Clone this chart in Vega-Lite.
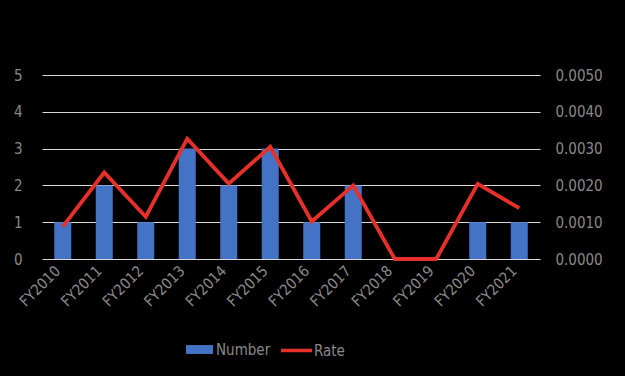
{
  "$schema": "https://vega.github.io/schema/vega-lite/v6.json",
  "width": 498,
  "height": 184,
  "autosize": {"type": "none"},
  "padding": {"left": 42, "top": 75, "right": 85, "bottom": 117},
  "background": "#000000",
  "config": {
    "view": {"stroke": null},
    "axis": {"labelFont": "Liberation Sans Narrow, DejaVu Sans Condensed, Liberation Sans, sans-serif", "labelFontSize": 15, "labelColor": "#898989", "titleColor": "#898989"},
    "legend": {"labelFont": "Liberation Sans Narrow, DejaVu Sans Condensed, Liberation Sans, sans-serif", "labelFontSize": 15, "labelColor": "#898989"}
  },
  "data": {
    "values": [
      {"Year": "FY2010", "Number": 1, "Rate": 0.00088},
      {"Year": "FY2011", "Number": 2, "Rate": 0.00235},
      {"Year": "FY2012", "Number": 1, "Rate": 0.00115},
      {"Year": "FY2013", "Number": 3, "Rate": 0.00327},
      {"Year": "FY2014", "Number": 2, "Rate": 0.00205},
      {"Year": "FY2015", "Number": 3, "Rate": 0.00305},
      {"Year": "FY2016", "Number": 1, "Rate": 0.00102},
      {"Year": "FY2017", "Number": 2, "Rate": 0.00200},
      {"Year": "FY2018", "Number": 0, "Rate": 0},
      {"Year": "FY2019", "Number": 0, "Rate": 0},
      {"Year": "FY2020", "Number": 1, "Rate": 0.00204},
      {"Year": "FY2021", "Number": 1, "Rate": 0.00138}
    ]
  },
  "encoding": {
    "x": {
      "field": "Year", "type": "ordinal", "title": null,
      "scale": {"paddingInner": 0.59, "paddingOuter": 0.295},
      "axis": {"labelAngle": -45, "domain": false, "ticks": false, "labelPadding": 4, "labelOffset": -10, "labelOverlap": false}
    }
  },
  "layer": [
    {
      "mark": {"type": "bar", "color": "#4472c4"},
      "encoding": {
        "y": {
          "field": "Number", "type": "quantitative", "title": null,
          "scale": {"domain": [0, 5]},
          "axis": {"values": [0, 1, 2, 3, 4, 5], "domain": false, "ticks": false, "grid": true, "gridColor": "#d9d9d9", "gridWidth": 1.2, "labelPadding": 20}
        },
        "fill": {
          "datum": "Number",
          "scale": {"range": ["#4472c4"]},
          "legend": {"title": null, "orient": "none", "legendX": 144, "legendY": 261, "symbolType": "M-1,-0.33h2v0.66h-2z", "symbolSize": 729, "symbolStrokeWidth": 0, "symbolOpacity": 1, "labelOffset": 3}
        }
      }
    },
    {
      "mark": {"type": "line", "color": "#e8302a", "strokeWidth": 3.8},
      "encoding": {
        "y": {
          "field": "Rate", "type": "quantitative", "title": null,
          "scale": {"domain": [0, 0.005]},
          "axis": {"orient": "right", "values": [0, 0.001, 0.002, 0.003, 0.004, 0.005], "format": ".4f", "domain": false, "ticks": false, "grid": false, "labelPadding": 15}
        },
        "stroke": {
          "datum": "Rate",
          "scale": {"range": ["#e8302a"]},
          "legend": {"title": null, "orient": "none", "legendX": 237, "legendY": 258, "symbolType": "stroke", "symbolSize": 961, "symbolStrokeWidth": 3.5, "labelOffset": 0}
        }
      }
    }
  ],
  "resolve": {"scale": {"y": "independent"}}
}
